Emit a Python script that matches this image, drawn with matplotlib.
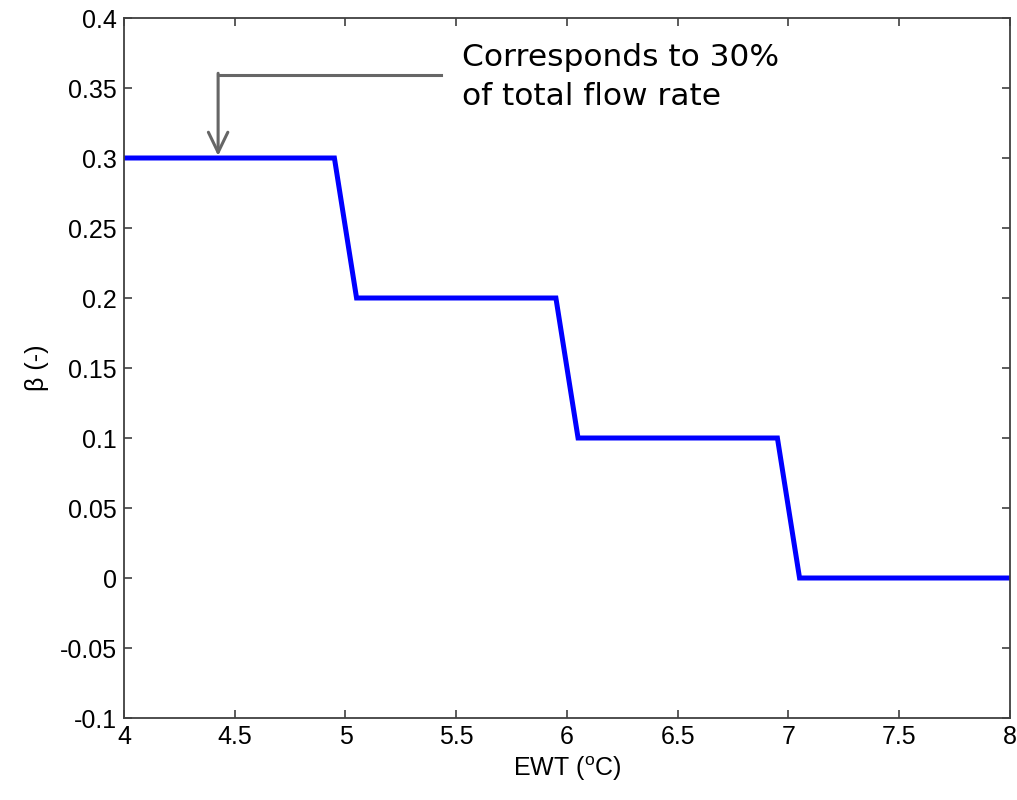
import numpy as np
import matplotlib.pyplot as plt

plt.rcParams['font.family'] = ['Liberation Sans', 'DejaVu Sans']
plt.rcParams['mathtext.fontset'] = 'custom'
plt.rcParams['mathtext.rm'] = 'Liberation Sans'

# control schedule: fraction beta against entering water temperature
ewt = [4.0, 4.95, 5.05, 5.95, 6.05, 6.95, 7.05, 8.0]
beta = [0.3, 0.3, 0.2, 0.2, 0.1, 0.1, 0.0, 0.0]

xticks = [4, 4.5, 5, 5.5, 6, 6.5, 7, 7.5, 8]
xticklabels = ['4', '4.5', '5', '5.5', '6', '6.5', '7', '7.5', '8']
yticks = [-0.1, -0.05, 0, 0.05, 0.1, 0.15, 0.2, 0.25, 0.3, 0.35, 0.4]
yticklabels = ['-0.1', '-0.05', '0', '0.05', '0.1', '0.15', '0.2', '0.25', '0.3', '0.35', '0.4']

fig = plt.figure(figsize=(10.17, 8), dpi=100)
ax = fig.add_axes([0.1219, 0.1025, 0.8712, 0.875])

ax.plot(ewt, beta, color='#0000ff', lw=3.6, solid_joinstyle='miter')

ax.set_xlim(4, 8)
ax.set_ylim(-0.1, 0.4)
ax.set_xticks(xticks)
ax.set_xticklabels(xticklabels)
ax.set_yticks(yticks)
ax.set_yticklabels(yticklabels)
ax.tick_params(direction='in', top=True, right=True, length=6, width=1.2,
               labelsize=18, color='#404040', pad=5)
for s in ax.spines.values():
    s.set_color('#404040')
    s.set_linewidth(1.3)

ax.set_xlabel('EWT ($^{\\mathrm{o}}$C)', fontsize=18, labelpad=4)
ax.set_ylabel('\u03b2 (-)', fontsize=18, labelpad=8)

# callout pointing at the first plateau
ax.plot([4.425, 5.43], [0.3595, 0.3595], color='#666666', lw=2.2, clip_on=False)
ax.annotate('', xy=(4.425, 0.3015), xytext=(4.425, 0.3605),
            arrowprops=dict(arrowstyle='->,head_length=1.45,head_width=0.7',
                            color='#666666', lw=2.2, shrinkA=0, shrinkB=0))
ax.text(5.525, 0.3379, 'Corresponds to 30%\nof total flow rate', fontsize=22.5,
        family='DejaVu Sans', va='baseline', ha='left', linespacing=1.42)

fig.savefig('out.png', dpi=100)
